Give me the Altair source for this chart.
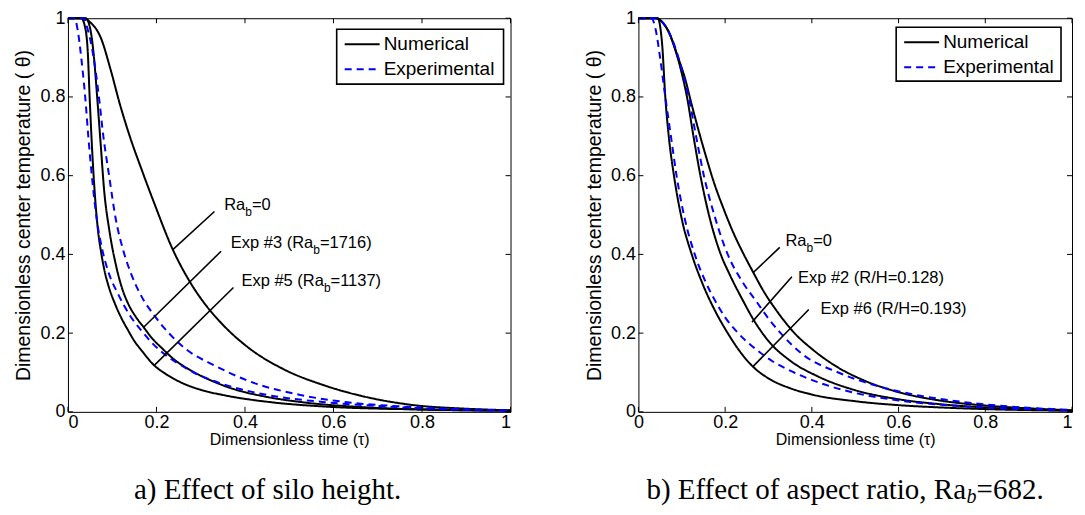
import altair as alt
import pandas as pd

# ---------------- data ----------------
ticks = [0, 0.2, 0.4, 0.6, 0.8, 1]
types = ["Numerical", "Experimental"]

# panel a) effect of silo height
a_ra0_tau = [0, 0.035, 0.05, 0.074, 0.097, 0.117, 0.14, 0.167, 0.195, 0.237, 0.272, 0.315, 0.346, 0.409, 0.486, 0.58, 0.689, 0.782, 0.9, 1.0]
a_ra0_theta = [1, 1, 0.99, 0.951, 0.867, 0.783, 0.699, 0.614, 0.53, 0.412, 0.337, 0.266, 0.226, 0.162, 0.109, 0.067, 0.034, 0.017, 0.008, 0.004]
a_exp3_tau = [0, 0.04, 0.05, 0.058, 0.066, 0.074, 0.082, 0.093, 0.109, 0.122, 0.136, 0.153, 0.171, 0.19, 0.214, 0.24, 0.272, 0.331, 0.38, 0.44, 0.533, 0.665, 0.8, 1.0]
a_exp3_theta = [1, 1, 0.975, 0.91, 0.8, 0.68, 0.56, 0.465, 0.37, 0.315, 0.275, 0.242, 0.215, 0.187, 0.16, 0.133, 0.109, 0.076, 0.056, 0.04, 0.024, 0.012, 0.006, 0.003]
a_exp5_tau = [0, 0.03, 0.04, 0.045, 0.049, 0.054, 0.058, 0.063, 0.068, 0.075, 0.082, 0.093, 0.105, 0.12, 0.136, 0.15, 0.167, 0.195, 0.22, 0.253, 0.3, 0.354, 0.455, 0.588, 0.8, 1.0]
a_exp5_theta = [1, 1, 0.97, 0.91, 0.8, 0.68, 0.6, 0.52, 0.46, 0.405, 0.362, 0.315, 0.278, 0.24, 0.207, 0.18, 0.155, 0.118, 0.097, 0.076, 0.056, 0.042, 0.025, 0.013, 0.006, 0.003]
a_dash1_tau = [0, 0.015, 0.022, 0.03, 0.039, 0.046, 0.054, 0.065, 0.078, 0.093, 0.113, 0.14, 0.167, 0.19, 0.214, 0.25, 0.284, 0.346, 0.4, 0.455, 0.588, 0.7, 0.82, 1.0]
a_dash1_theta = [1, 1, 0.97, 0.9, 0.8, 0.7, 0.6, 0.49, 0.41, 0.35, 0.3, 0.245, 0.205, 0.175, 0.15, 0.122, 0.1, 0.072, 0.055, 0.042, 0.024, 0.015, 0.008, 0.003]
a_dash2_tau = [0, 0.035, 0.045, 0.055, 0.062, 0.07, 0.08, 0.093, 0.108, 0.125, 0.143, 0.163, 0.195, 0.228, 0.268, 0.331, 0.409, 0.525, 0.626, 0.75, 0.88, 1.0]
a_dash2_theta = [1, 1, 0.97, 0.92, 0.87, 0.8, 0.7, 0.6, 0.49, 0.41, 0.35, 0.3, 0.245, 0.2, 0.158, 0.118, 0.078, 0.043, 0.025, 0.014, 0.007, 0.004]

# panel b) effect of aspect ratio
b_ra0_tau = [0, 0.04, 0.055, 0.07, 0.09, 0.108, 0.123, 0.139, 0.155, 0.175, 0.195, 0.219, 0.243, 0.265, 0.289, 0.32, 0.36, 0.4, 0.46, 0.52, 0.6, 0.7, 0.8, 0.9, 1.0]
b_ra0_theta = [1, 1, 0.99, 0.965, 0.905, 0.845, 0.78, 0.714, 0.652, 0.58, 0.52, 0.455, 0.4, 0.354, 0.306, 0.255, 0.2, 0.16, 0.113, 0.08, 0.05, 0.028, 0.016, 0.009, 0.004]
b_exp2_tau = [0, 0.04, 0.055, 0.07, 0.085, 0.1, 0.112, 0.127, 0.143, 0.165, 0.19, 0.21, 0.24, 0.265, 0.3, 0.35, 0.414, 0.5, 0.6, 0.7, 0.8, 0.9, 1.0]
b_exp2_theta = [1, 1, 0.99, 0.965, 0.92, 0.86, 0.8, 0.7, 0.6, 0.49, 0.4, 0.35, 0.285, 0.235, 0.18, 0.13, 0.09, 0.055, 0.032, 0.019, 0.011, 0.006, 0.003]
b_exp6_tau = [0, 0.045, 0.05, 0.055, 0.062, 0.07, 0.082, 0.1, 0.123, 0.15, 0.18, 0.206, 0.235, 0.264, 0.3, 0.35, 0.4, 0.5, 0.6, 0.7, 0.8, 1.0]
b_exp6_theta = [1, 1, 0.98, 0.93, 0.8, 0.7, 0.6, 0.49, 0.4, 0.32, 0.25, 0.2, 0.152, 0.115, 0.085, 0.06, 0.044, 0.027, 0.017, 0.011, 0.007, 0.003]
b_dash1_tau = [0, 0.03, 0.04, 0.05, 0.062, 0.075, 0.088, 0.107, 0.13, 0.155, 0.178, 0.2, 0.23, 0.27, 0.31, 0.359, 0.42, 0.5, 0.6, 0.7, 0.8, 0.9, 1.0]
b_dash1_theta = [1, 1, 0.97, 0.9, 0.8, 0.7, 0.6, 0.49, 0.4, 0.33, 0.28, 0.24, 0.2, 0.16, 0.128, 0.1, 0.073, 0.048, 0.029, 0.018, 0.011, 0.007, 0.004]
b_dash2_tau = [0, 0.04, 0.055, 0.07, 0.085, 0.1, 0.116, 0.133, 0.151, 0.175, 0.206, 0.24, 0.273, 0.3, 0.328, 0.38, 0.461, 0.55, 0.65, 0.75, 0.85, 1.0]
b_dash2_theta = [1, 1, 0.99, 0.965, 0.925, 0.87, 0.8, 0.7, 0.6, 0.5, 0.4, 0.33, 0.279, 0.237, 0.2, 0.145, 0.1, 0.066, 0.041, 0.025, 0.014, 0.005]

# leader lines (start on curve -> end near label)
a_lead_tau = [0.237, 0.171, 0.195]
a_lead_theta = [0.412, 0.215, 0.118]
a_lead_tau2 = [0.331, 0.346, 0.374]
a_lead_theta2 = [0.509, 0.408, 0.316]
b_lead_tau = [0.265, 0.262, 0.264]
b_lead_theta = [0.354, 0.228, 0.115]
b_lead_tau2 = [0.326, 0.354, 0.393]
b_lead_theta2 = [0.418, 0.343, 0.26]

# annotation labels: (tau, theta, pieces) ; piece = (text, is_subscript)
a_labels = [
    (0.353, 0.525, [("Ra", False), ("b", True), ("=0", False)]),
    (0.368, 0.428, [("Exp #3 (Ra", False), ("b", True), ("=1716)", False)]),
    (0.392, 0.332, [("Exp #5 (Ra", False), ("b", True), ("=1137)", False)]),
]
b_labels = [
    (0.339, 0.433, [("Ra", False), ("b", True), ("=0", False)]),
    (0.368, 0.340, [("Exp #2 (R/H=0.128)", False)]),
    (0.420, 0.261, [("Exp #6 (R/H=0.193)", False)]),
]
a_caption = [("a) Effect of silo height.", False)]
b_caption = [("b) Effect of aspect ratio, Ra", False), ("b", True), (" =682.", False)]

x_title = "Dimensionless time (τ)"
y_title = "Dimensionless center temperature ( θ)"

# ---------------- styling ----------------
FONT = "Liberation Sans"
SERIF = "Liberation Serif"
H = 394
LAB, SUB = 16.5, 12
CAP, CAPSUB = 29, 20
COLORS = ["#000000", "#0000ff"]
DASHES = [[1, 0], [7, 5]]

AR = {' ': 278, '#': 556, '(': 333, ')': 333, '=': 584, '.': 278, '/': 278,
      'E': 667, 'x': 500, 'p': 556, 'R': 722, 'a': 556, 'b': 556, 'H': 722}
TR = {'a': 444, 'b': 500, ')': 333, ' ': 250, 'E': 611, 'f': 333, 'e': 444, 'c': 444,
      't': 278, 'o': 500, 's': 389, 'i': 278, 'l': 278, 'h': 500, 'g': 500, '.': 250,
      'p': 500, 'r': 333, ',': 250, 'R': 667, '=': 564}


def tw(s, table, size, default):
    return sum(table.get(c, default) for c in s) / 1000.0 * size


def make_x(flush_last):
    ax = dict(values=ticks, format="~g", title=x_title)
    if flush_last:
        ax["labelAlign"] = alt.condition("datum.value == 1", alt.value("right"), alt.value("center"))
    return alt.X("tau:Q", scale=alt.Scale(domain=[0, 1], nice=False), axis=alt.Axis(**ax))


Y = alt.Y("theta:Q", scale=alt.Scale(domain=[0, 1], nice=False),
          axis=alt.Axis(values=ticks, format="~g", title=y_title))


def curves_df(curves):
    rows = []
    for name, kind, xs, ys in curves:
        for xv, yv in zip(xs, ys):
            rows.append({"tau": xv, "theta": yv, "curve": name, "type": kind})
    return pd.DataFrame(rows)


def panel(curves, lead, labels, caption, cap_x, W, box, flush_last):
    X = make_x(flush_last)
    df = curves_df(curves)
    lines = alt.Chart(df).mark_line(interpolate="monotone", strokeWidth=2).encode(
        x=X, y=Y,
        color=alt.Color("type:N", scale=alt.Scale(domain=types, range=COLORS), legend=None),
        strokeDash=alt.StrokeDash("type:N", scale=alt.Scale(domain=types, range=DASHES), legend=None),
        detail="curve:N",
    )
    ld = pd.DataFrame({"tau": lead[0], "theta": lead[1], "tau2": lead[2], "theta2": lead[3]})
    leaders = alt.Chart(ld).mark_rule(color="black", strokeWidth=1.6).encode(
        x=X, y=Y, x2="tau2:Q", y2="theta2:Q")

    tdf = pd.DataFrame({"tau": ticks, "theta": ticks})
    tk = 5
    t_bot = alt.Chart(tdf).mark_rule(color="black").encode(x=X, y=alt.value(H), y2=alt.value(H - tk))
    t_top = alt.Chart(tdf).mark_rule(color="black").encode(x=X, y=alt.value(0), y2=alt.value(tk))
    t_lft = alt.Chart(tdf).mark_rule(color="black").encode(y=Y, x=alt.value(0), x2=alt.value(tk))
    t_rgt = alt.Chart(tdf).mark_rule(color="black").encode(y=Y, x=alt.value(W - tk), x2=alt.value(W))

    layers = [lines, leaders, t_bot, t_top, t_lft, t_rgt]

    # legend box drawn by hand (MATLAB style)
    bx, by, bw, bh, sx0, sx1, lx, rows_y = box
    one = pd.DataFrame({"k": [0]})
    layers.append(alt.Chart(one).mark_rect(fill="white", stroke="black", strokeWidth=1.6).encode(
        x=alt.value(bx), x2=alt.value(bx + bw), y=alt.value(by), y2=alt.value(by + bh)))
    for i, t in enumerate(types):
        d = pd.DataFrame({"t": [t]})
        layers.append(alt.Chart(d).mark_rule(color=COLORS[i], strokeWidth=2, strokeDash=DASHES[i]).encode(
            x=alt.value(sx0), x2=alt.value(sx1), y=alt.value(rows_y[i])))
        layers.append(alt.Chart(d).mark_text(align="left", baseline="middle", font=FONT, fontSize=19,
                                             color="black").encode(
            x=alt.value(lx), y=alt.value(rows_y[i]), text="t:N"))

    for tau0, th0, pieces in labels:
        off = 0.0
        for txt, sub in pieces:
            size = SUB if sub else LAB
            d = pd.DataFrame({"tau": [tau0], "theta": [th0], "t": [txt]})
            layers.append(alt.Chart(d).mark_text(
                align="left", baseline="middle", font=FONT, fontSize=size,
                dx=off, dy=7 if sub else 0, color="black").encode(x=X, y=Y, text="t:N"))
            off += tw(txt, AR, size, 556)
    off = 0.0
    for txt, sub in caption:
        size = CAPSUB if sub else CAP
        d = pd.DataFrame({"t": [txt]})
        layers.append(alt.Chart(d).mark_text(
            align="left", baseline="middle", font=SERIF, fontSize=size,
            fontStyle="italic" if sub else "normal", color="black").encode(
            x=alt.value(cap_x + off), y=alt.value(472 + (7 if sub else 0)), text="t:N"))
        off += tw(txt, TR, size, 500)
    return alt.layer(*layers).properties(width=W, height=H)


left = panel(
    [("ra0", "Numerical", a_ra0_tau, a_ra0_theta),
     ("exp3", "Numerical", a_exp3_tau, a_exp3_theta),
     ("exp5", "Numerical", a_exp5_tau, a_exp5_theta),
     ("d1", "Experimental", a_dash1_tau, a_dash1_theta),
     ("d2", "Experimental", a_dash2_tau, a_dash2_theta)],
    (a_lead_tau, a_lead_theta, a_lead_tau2, a_lead_theta2),
    a_labels, a_caption, 66, 443,
    (269, 11, 167, 55, 277, 312, 316, [26, 51]), False)

right = panel(
    [("ra0", "Numerical", b_ra0_tau, b_ra0_theta),
     ("exp2", "Numerical", b_exp2_tau, b_exp2_theta),
     ("exp6", "Numerical", b_exp6_tau, b_exp6_theta),
     ("d1", "Experimental", b_dash1_tau, b_dash1_theta),
     ("d2", "Experimental", b_dash2_tau, b_dash2_theta)],
    (b_lead_tau, b_lead_theta, b_lead_tau2, b_lead_theta2),
    b_labels, b_caption, 8, 434,
    (258, 9, 165, 54, 266, 301, 305, [24, 49]), True)

chart = alt.hconcat(left, right, spacing=68).resolve_scale(
    color="independent", strokeDash="independent", x="independent", y="independent"
).properties(
    padding={"left": 5, "top": 0, "right": 0, "bottom": 2}
).configure_view(stroke="black", strokeWidth=1).configure_axis(
    labelFont=FONT, labelFontSize=18, labelColor="black", titleFont=FONT,
    titleFontWeight="normal", titleColor="black", grid=False, ticks=False,
    domain=False, labelPadding=3
).configure_axisX(titleFontSize=16, titlePadding=0, labelPadding=2).configure_axisY(
    titleFontSize=19.5, titlePadding=6
)

chart.save("out.html", embed_options={"renderer": "svg", "actions": False})
